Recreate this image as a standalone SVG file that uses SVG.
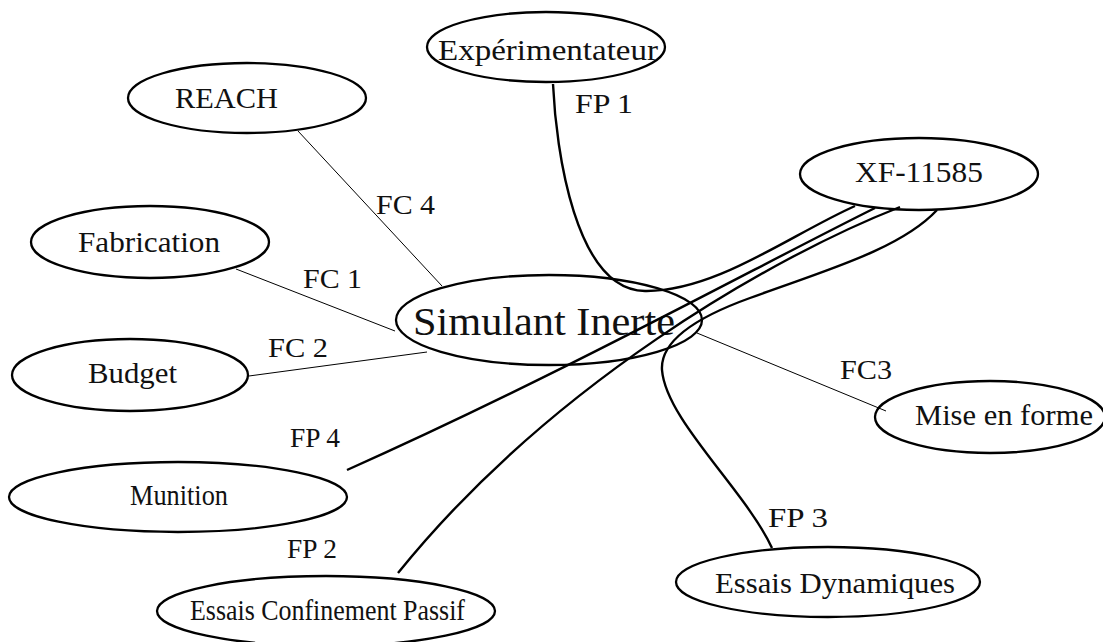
<svg xmlns="http://www.w3.org/2000/svg" width="1103" height="642" viewBox="0 0 1103 642" font-family="'Liberation Serif', 'DejaVu Serif', serif">
<style>
.n ellipse{fill:#fff;stroke:#000;stroke-width:2.3}
text{font-family:'Liberation Serif','DejaVu Serif',serif;fill:#111}
.t{font-size:29px}
.l{font-size:28px}
.thin{fill:none;stroke:#000;stroke-width:1}
.thick{fill:none;stroke:#000;stroke-width:2.4}
</style>
<rect width="1103" height="642" fill="#fff"/>
<g id="nodes">
<g id="n-reach" class="n"><ellipse cx="247" cy="98" rx="119" ry="35"/><text class="t" x="175" y="108" textLength="103" lengthAdjust="spacingAndGlyphs">REACH</text></g>
<g id="n-fabrication" class="n"><ellipse cx="150" cy="242" rx="119" ry="36"/><text class="t" x="78" y="252" textLength="142" lengthAdjust="spacingAndGlyphs">Fabrication</text></g>
<g id="n-budget" class="n"><ellipse cx="130" cy="375" rx="118" ry="36"/><text class="t" x="88" y="383" textLength="89" lengthAdjust="spacingAndGlyphs">Budget</text></g>
<g id="n-munition" class="n"><ellipse cx="178" cy="497" rx="169" ry="35"/><text class="t" x="130" y="505" textLength="98" lengthAdjust="spacingAndGlyphs">Munition</text></g>
<g id="n-ecp" class="n"><ellipse cx="326" cy="611" rx="169" ry="35"/><text class="t" x="190" y="620" textLength="275" lengthAdjust="spacingAndGlyphs">Essais Confinement Passif</text></g>
<g id="n-exp" class="n"><ellipse cx="546" cy="47" rx="119" ry="35"/><text class="t" x="438" y="60" textLength="220" lengthAdjust="spacingAndGlyphs">Expérimentateur</text></g>
<g id="n-xf" class="n"><ellipse cx="919" cy="174" rx="119" ry="36"/><text class="t" x="855" y="182" textLength="128" lengthAdjust="spacingAndGlyphs">XF-11585</text></g>
<g id="n-mise" class="n"><ellipse cx="990" cy="417" rx="115" ry="36"/><text class="t" x="915" y="425" textLength="178" lengthAdjust="spacingAndGlyphs">Mise en forme</text></g>
<g id="n-ed" class="n"><ellipse cx="828" cy="582" rx="152" ry="35"/><text class="t" x="715" y="593" textLength="240" lengthAdjust="spacingAndGlyphs">Essais Dynamiques</text></g>
<g id="n-simulant" class="n"><ellipse cx="549" cy="320" rx="153" ry="45"/><text x="413" y="335" font-size="41" textLength="262" lengthAdjust="spacingAndGlyphs">Simulant Inerte</text></g>
</g>
<g id="connectors">
<path class="thin" d="M298,131 L442,286"/>
<path class="thin" d="M236,269 L395,331"/>
<path class="thin" d="M249,376 L427,352"/>
<path class="thin" d="M697,333 L886,411"/>
<path class="thick" d="M553,84 C556,150 575,290 645,291 C715,292 790,235 855,206"/>
<path class="thick" d="M875,208 C760,265 560,375 347,470"/>
<path class="thick" d="M900,207 C770,258 550,385 398,573"/>
<path class="thick" d="M937,210 C900,250 820,272 750,298 C700,316 660,340 662,370 C666,420 745,490 772,548"/>
</g>
<g id="labels">
<text class="l" x="575" y="113" textLength="58" lengthAdjust="spacingAndGlyphs">FP 1</text>
<text class="l" x="376" y="214" textLength="59" lengthAdjust="spacingAndGlyphs">FC 4</text>
<text class="l" x="303" y="288" textLength="59" lengthAdjust="spacingAndGlyphs">FC 1</text>
<text class="l" x="268" y="357" textLength="60" lengthAdjust="spacingAndGlyphs">FC 2</text>
<text class="l" x="290" y="447" textLength="50" lengthAdjust="spacingAndGlyphs">FP 4</text>
<text class="l" x="287" y="558" textLength="50" lengthAdjust="spacingAndGlyphs">FP 2</text>
<text class="l" x="840" y="379" textLength="52" lengthAdjust="spacingAndGlyphs">FC3</text>
<text class="l" x="768" y="527" textLength="60" lengthAdjust="spacingAndGlyphs">FP 3</text>
</g>
</svg>
